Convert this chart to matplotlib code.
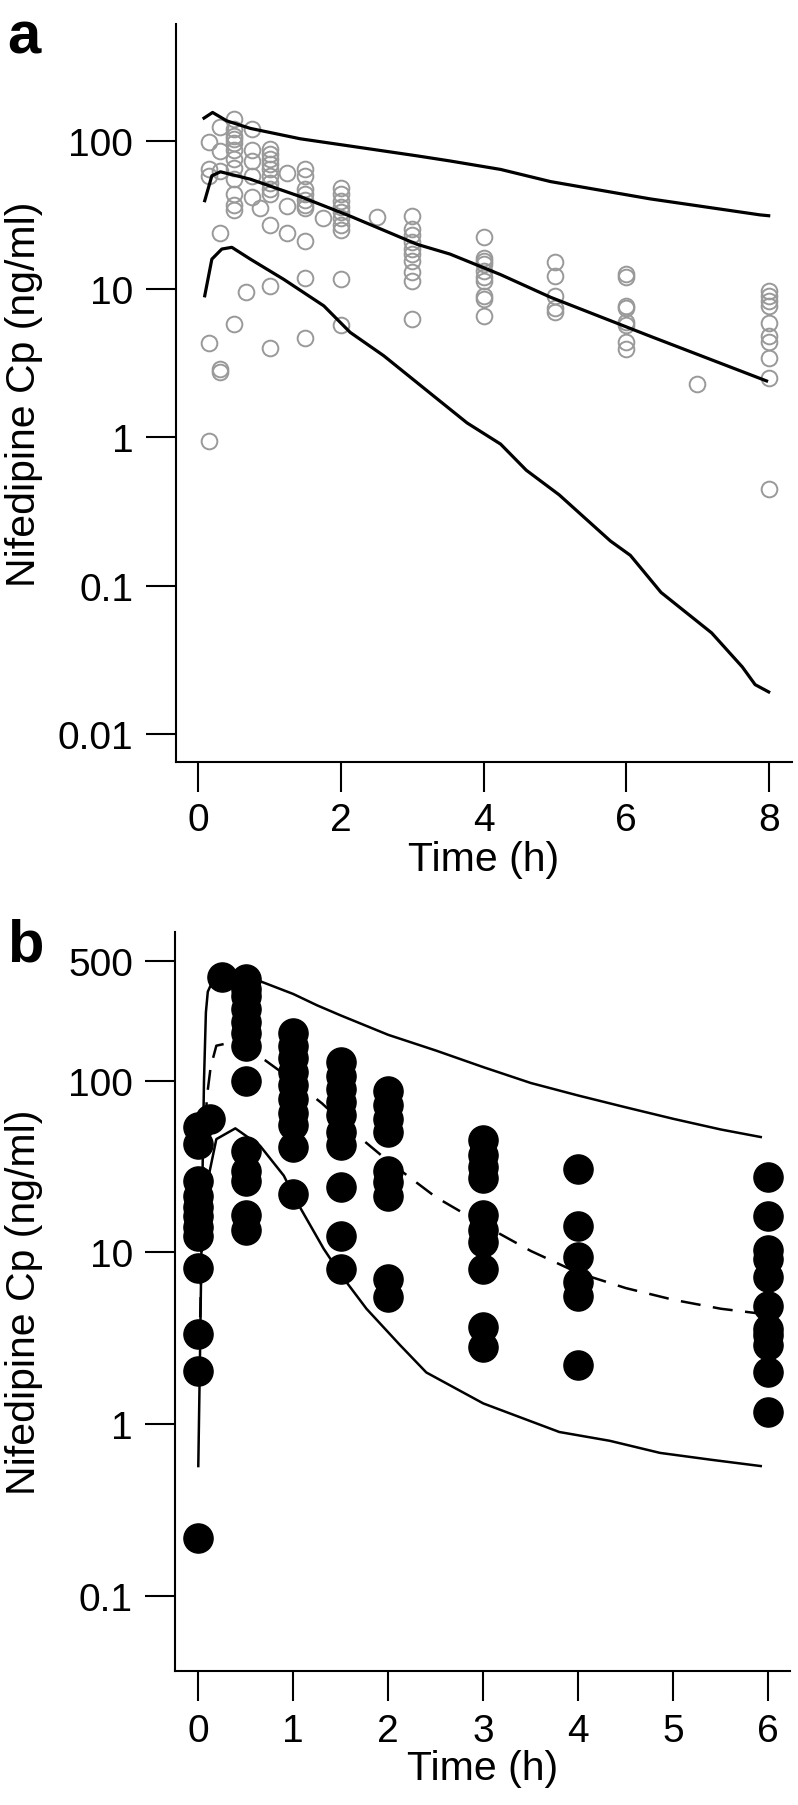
import numpy as np
import matplotlib
matplotlib.use("Agg")
from matplotlib import pyplot as plt
from matplotlib.ticker import FixedLocator, NullLocator

plt.rcParams['font.family'] = ['Liberation Sans', 'DejaVu Sans']

# ---------------- panel a : observed Cp (open circles) ----------------
a_obs = {
    0.15: [98, 64, 58, 4.3, 0.95],
    0.3: [123, 85, 62, 24, 2.9, 2.75],
    0.5: [141, 120, 108, 102, 96, 86, 75, 65, 55, 44, 37, 34, 5.8],
    0.67: [9.5],
    0.75: [120, 86, 73, 58, 42],
    0.87: [35],
    1.0: [88, 81, 75, 70, 64, 58, 52, 47, 44, 27, 10.5, 4.0],
    1.25: [61, 36.5, 24],
    1.5: [64, 58, 47, 44, 40, 37, 35, 21, 11.8, 4.7],
    1.75: [30],
    2.0: [48, 44, 39, 35.5, 33, 30, 27, 25, 11.7, 5.7],
    2.5: [30.7],
    3.0: [31, 25.4, 23, 20.6, 18.6, 17.2, 15.5, 13, 11.4, 6.3],
    4.0: [22.3, 16.3, 15.5, 14.7, 13.3, 12, 11.4, 9, 8.6, 6.6],
    5.0: [15.3, 12.3, 9, 7.4, 7],
    6.0: [12.7, 12, 7.7, 7.4, 6, 5.7, 4.4, 3.95],
    7.0: [2.3],
    8.0: [9.7, 9, 8.3, 7.7, 5.9, 4.8, 4.4, 3.4, 2.5, 0.45],
}

# predicted percentiles, panel a
a_up_t = [0.08, 0.2, 0.4, 0.73, 1.43, 2.13, 3.07, 3.53, 4.24, 4.94, 6.34, 7.88, 8.0]
a_up_c = [142, 155, 136, 121, 103, 92, 79, 73, 64, 53, 40.5, 31.6, 31.2]
a_mid_t = [0.09, 0.19, 0.31, 0.73, 1.43, 2.13, 3.07, 3.53, 4.24, 4.94, 6.34, 7.97]
a_mid_c = [39.4, 58, 61.7, 55, 42, 31, 20, 17.2, 12.5, 8.8, 4.8, 2.4]
a_low_t = [0.09, 0.19, 0.33, 0.47, 0.73, 1.2, 1.76, 2.13, 2.6, 3.3, 3.77, 4.24,
           4.6, 5.06, 5.78, 6.06, 6.49, 7.2, 7.63, 7.81, 8.0]
a_low_c = [9.0, 15.9, 18.6, 19.1, 15.9, 11.6, 7.7, 5.1, 3.55, 1.9, 1.25, 0.9,
           0.6, 0.41, 0.20, 0.16, 0.09, 0.048, 0.0283, 0.0215, 0.0192]

# ---------------- panel b : observed Cp (filled circles) ----------------
b_obs = {
    0.0: [54, 43, 25.9, 21.4, 18.3, 16.3, 14, 12.5, 8.1, 3.35, 2.03, 0.216],
    0.12: [60],
    0.25: [400],
    0.5: [390, 340, 310, 260, 220, 190, 160, 100, 39, 30, 26, 16.5, 13.5],
    1.0: [190, 160, 135, 112, 94, 78, 65, 55, 41, 22],
    1.5: [128, 107, 90, 75, 63, 50, 42, 24, 12.5, 8],
    2.0: [87, 72, 60, 50, 30, 25.6, 21.4, 7, 5.5],
    3.0: [45, 37, 31.5, 27, 16.5, 13.5, 11.5, 8, 3.7, 2.8],
    4.0: [30.6, 14.3, 9.4, 6.7, 5.6, 2.2],
    6.0: [27.4, 16.3, 10.3, 9.1, 7.2, 4.9, 3.6, 3.3, 2.9, 2.0, 1.18],
}

b_up_t = [0, 0.02, 0.04, 0.06, 0.08, 0.1, 0.15, 0.25, 0.4, 0.65, 1.0, 1.25, 1.5,
          2.0, 2.5, 3.0, 3.5, 4.0, 4.5, 5.0, 5.5, 5.92]
b_up_c = [0.57, 3, 20, 100, 250, 330, 380, 410, 400, 380, 320, 275, 240,
          185, 150, 120, 97, 82, 70, 60, 52, 47]
b_mid_t = [0.02, 0.05, 0.09, 0.13, 0.19, 0.3, 0.45, 0.7, 1.0, 1.3, 1.6, 2.0, 2.5,
           3.0, 3.5, 4.0, 4.5, 5.0, 5.5, 5.92]
b_mid_c = [4.2, 27, 80, 120, 160, 165, 158, 132, 100, 74, 52, 34, 21,
           14.5, 10.2, 7.6, 6.2, 5.3, 4.7, 4.4]
b_low_t = [0.11, 0.19, 0.39, 0.65, 0.9, 1.04, 1.32, 1.51, 1.77, 2.12, 2.4, 3.0,
           3.8, 4.33, 4.86, 5.4, 5.92]
b_low_c = [28, 45.7, 52.8, 41.8, 28, 19.6, 10.5, 7.3, 4.7, 2.9, 2.0, 1.32,
           0.9, 0.80, 0.68, 0.62, 0.57]

a_yticks = [0.01, 0.1, 1, 10, 100]
a_ylabels = ["0.01", "0.1", "1", "10", "100"]
a_xticks = [0, 2, 4, 6, 8]
b_yticks = [0.1, 1, 10, 100, 500]
b_ylabels = ["0.1", "1", "10", "100", "500"]
b_xticks = [0, 1, 2, 3, 4, 5, 6]


def flatten(obs):
    xs, ys = [], []
    for t, vals in obs.items():
        xs += [t] * len(vals)
        ys += vals
    return xs, ys


def style_axes(ax, xticks, yticks, ylabels, xpad, xlab_y, ylab_x):
    ax.set_yscale('log')
    ax.spines['top'].set_visible(False)
    ax.spines['right'].set_visible(False)
    for s in ('left', 'bottom'):
        ax.spines[s].set_linewidth(1.5)
    ax.yaxis.set_major_locator(FixedLocator(yticks))
    ax.yaxis.set_minor_locator(NullLocator())
    ax.set_yticklabels(ylabels)
    ax.set_xticks(xticks)
    ax.set_xticklabels([str(v) for v in xticks])
    ax.tick_params(axis='both', length=21.5, width=1.5, labelsize=28)
    ax.tick_params(axis='y', pad=9)
    ax.tick_params(axis='x', pad=xpad)
    ax.set_xlabel("Time (h)", fontsize=29.5)
    ax.set_ylabel("Nifedipine Cp (ng/ml)", fontsize=29.5)
    ax.xaxis.set_label_coords(0.5, xlab_y)
    ax.yaxis.set_label_coords(ylab_x, 0.5)


fig = plt.figure(figsize=(7.98, 18.06), dpi=100)
W, H = 798.0, 1806.0

# panel a
ax = fig.add_axes([175.5 / W, 1 - 763.3 / H, (792 - 175.5) / W, (763.3 - 25) / H])
xs, ys = flatten(a_obs)
ax.plot(xs, ys, 'o', ms=11.3, mfc='none', mec='#999999', mew=1.4, zorder=2)
for t, c in ((a_up_t, a_up_c), (a_mid_t, a_mid_c), (a_low_t, a_low_c)):
    ax.plot(t, c, '-', color='black', lw=2.3, zorder=3)
ax.set_xlim(-0.32, 8.327)
ax.set_ylim(0.00644, 612)
style_axes(ax, a_xticks, a_yticks, a_ylabels, 7, -0.105, -0.215)

# panel b
ax = fig.add_axes([175.3 / W, 1 - 1672 / H, (790 - 175.3) / W, (1672 - 933.3) / H])
xs, ys = flatten(b_obs)
ax.plot(xs, ys, 'o', ms=21, mfc='black', mec='black', zorder=2)
ax.plot(b_up_t, b_up_c, '-', color='black', lw=1.8, zorder=3)
ax.plot(b_low_t, b_low_c, '-', color='black', lw=1.8, zorder=3)
ax.plot(b_mid_t, b_mid_c, color='black', lw=1.8, ls=(0, (8, 5)), zorder=3)
ax.set_xlim(-0.242, 6.228)
ax.set_ylim(0.0365, 732)
style_axes(ax, b_xticks, b_yticks, b_ylabels, 9, -0.105, -0.215)

fig.text(7 / W, 1 - 53 / H, "a", fontsize=43, fontweight='bold', ha='left', va='baseline')
fig.text(7 / W, 1 - 962 / H, "b", fontsize=43, fontweight='bold', ha='left', va='baseline')

fig.savefig("out.png", dpi=100)
